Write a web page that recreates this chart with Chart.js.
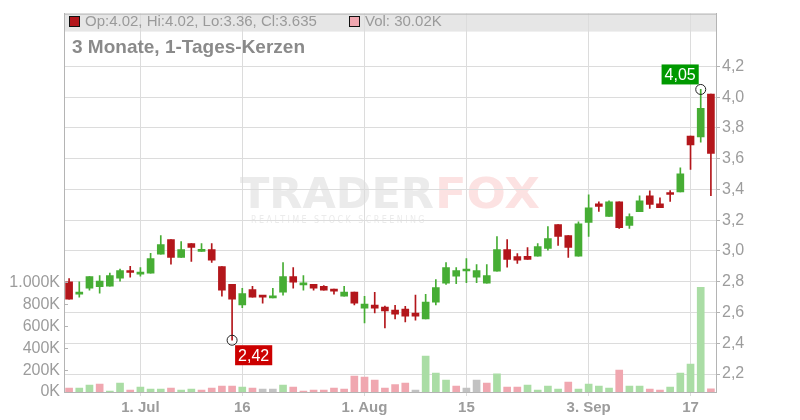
<!DOCTYPE html>
<html>
<head>
<meta charset="utf-8">
<script src="https://cdn.jsdelivr.net/npm/chart.js@4.4.1/dist/chart.umd.min.js"></script>
<style>
  body { margin: 0; background: #fff; }
  #wrap { position: relative; width: 800px; height: 420px; font-family: "Liberation Sans", Arial, sans-serif; }
  #chart { position: absolute; left: 0; top: 0; }
  .legend { position: absolute; top: 12px; height: 18px; line-height: 18px; font-size: 15px; color: #9a9a9a; white-space: nowrap; }
  .sq { display: inline-block; width: 9px; height: 9px; border: 1px solid #111; vertical-align: -1px; margin-right: 5px; }
  .title { position: absolute; left: 72px; top: 36px; font-size: 19px; font-weight: bold; color: #8a8a8a; white-space: nowrap; }
</style>
</head>
<body>
<div id="wrap">
  <canvas id="chart" width="800" height="420"></canvas>
  <div class="legend" id="legOhlc" style="left:69px"></div>
  <div class="legend" id="legVol" style="left:349px"></div>
  <div class="title">3 Monate, 1-Tages-Kerzen</div>
</div>
<script>
// Handelstage (Juni - September 2024)
const dates = [
    '2024-06-20','2024-06-21','2024-06-24','2024-06-25','2024-06-26','2024-06-27','2024-06-28',
    '2024-07-01','2024-07-02','2024-07-03','2024-07-05','2024-07-08','2024-07-09','2024-07-10','2024-07-11',
    '2024-07-12','2024-07-15','2024-07-16','2024-07-17','2024-07-18','2024-07-19','2024-07-22','2024-07-23',
    '2024-07-24','2024-07-25','2024-07-26','2024-07-29','2024-07-30','2024-07-31',
    '2024-08-01','2024-08-02','2024-08-05','2024-08-06','2024-08-07','2024-08-08','2024-08-09','2024-08-12',
    '2024-08-13','2024-08-14','2024-08-15','2024-08-16','2024-08-19','2024-08-20','2024-08-21','2024-08-22',
    '2024-08-23','2024-08-26','2024-08-27','2024-08-28','2024-08-29','2024-08-30',
    '2024-09-03','2024-09-04','2024-09-05','2024-09-06','2024-09-09','2024-09-10','2024-09-11','2024-09-12',
    '2024-09-13','2024-09-16','2024-09-17','2024-09-18','2024-09-19'
];

const opens = [
    2.80, 2.72, 2.759, 2.768, 2.771, 2.823, 2.866, 2.85, 2.856, 2.979, 3.074, 2.959, 3.048, 2.998, 3.009, 2.899,
    2.783, 2.649, 2.75, 2.709, 2.695, 2.733, 2.834, 2.78, 2.783, 2.771, 2.752, 2.707, 2.733, 2.629, 2.649, 2.636,
    2.616, 2.623, 2.597, 2.558, 2.668, 2.791, 2.836, 2.87, 2.83, 2.791, 2.869, 3.009, 2.963, 2.966, 2.966, 3.017,
    3.171, 3.10, 2.966, 3.186, 3.307, 3.225, 3.32, 3.166, 3.255, 3.358, 3.307, 3.378, 3.384, 3.747, 3.742, 4.02
];
const highs = [
    2.82, 2.80, 2.834, 2.841, 2.856, 2.882, 2.90, 2.893, 2.985, 3.10, 3.074, 3.061, 3.048, 3.048, 3.048, 2.899,
    2.783, 2.757, 2.77, 2.709, 2.757, 2.925, 2.893, 2.841, 2.783, 2.776, 2.752, 2.77, 2.733, 2.705, 2.731, 2.642,
    2.647, 2.64, 2.713, 2.718, 2.815, 2.925, 2.893, 2.951, 2.912, 2.912, 3.093, 3.074, 2.983, 3.022, 3.048, 3.158,
    3.171, 3.10, 3.19, 3.365, 3.32, 3.326, 3.32, 3.242, 3.358, 3.391, 3.346, 3.393, 3.54, 3.747, 4.05, 4.02
];
const lows = [
    2.687, 2.70, 2.746, 2.726, 2.771, 2.804, 2.83, 2.836, 2.856, 2.979, 2.914, 2.959, 2.933, 2.998, 2.925, 2.707,
    2.42, 2.632, 2.70, 2.661, 2.695, 2.713, 2.759, 2.746, 2.746, 2.746, 2.72, 2.707, 2.649, 2.532, 2.597, 2.50,
    2.558, 2.539, 2.551, 2.558, 2.649, 2.783, 2.787, 2.794, 2.794, 2.791, 2.869, 2.895, 2.92, 2.946, 2.966, 3.005,
    3.037, 2.959, 2.966, 3.095, 3.257, 3.225, 3.147, 3.147, 3.255, 3.276, 3.281, 3.322, 3.384, 3.531, 3.708, 3.36
];
const closes = [
    2.687, 2.733, 2.834, 2.805, 2.841, 2.873, 2.86, 2.863, 2.951, 3.041, 2.959, 3.009, 3.024, 3.009, 2.94, 2.746,
    2.687, 2.724, 2.70, 2.70, 2.70, 2.834, 2.797, 2.785, 2.759, 2.746, 2.739, 2.733, 2.661, 2.655, 2.629, 2.61,
    2.59, 2.577, 2.577, 2.668, 2.763, 2.893, 2.873, 2.873, 2.873, 2.841, 3.009, 2.946, 2.94, 2.946, 3.029, 3.08,
    3.095, 3.024, 3.177, 3.281, 3.29, 3.32, 3.151, 3.223, 3.326, 3.302, 3.281, 3.367, 3.501, 3.69, 3.928, 3.635
];
// Volumen in Tausend
const volumes = [
    36, 36, 64, 73, 9, 82, 18, 45, 27, 27, 36, 18, 27, 18, 36, 55,
    55, 45, 36, 27, 27, 64, 45, 9, 18, 18, 36, 27, 145, 136, 109, 36,
    67, 82, 18, 327, 173, 109, 55, 36, 109, 82, 167, 45, 45, 64, 18, 55,
    27, 91, 27, 73, 55, 36, 200, 55, 55, 27, 18, 45, 173, 255, 955, 30.02
];

const priceTicks = [2.2, 2.4, 2.6, 2.8, 3.0, 3.2, 3.4, 3.6, 3.8, 4.0, 4.2];
const volumeTicks = [0, 200, 400, 600, 800, 1000];
const dateTicks = ['2024-07-01', '2024-07-16', '2024-08-01', '2024-08-15', '2024-09-03', '2024-09-17'];
const dateTickLabels = ['1. Jul', '16', '1. Aug', '15', '3. Sep', '17'];

// Farben
const UP = '#46ad34';
const DOWN = '#b3161b';
const VOL_UP = '#aadda5';
const VOL_DOWN = '#f0a7b0';
const VOL_FLAT = '#c2c2c2';
const GRID = '#dcdcdc';
const AXIS = '#b4b4b4';
const LABEL = '#9c9c9c';

Chart.defaults.font.family = '"Liberation Sans", Arial, sans-serif';

const candleColors = opens.map((o, i) => closes[i] >= o ? UP : DOWN);
const volumeColors = closes.map((c, i) => {
    const prev = i > 0 ? closes[i - 1] : opens[i];
    if (c > prev) return VOL_UP;
    if (c < prev) return VOL_DOWN;
    return VOL_FLAT;
});

const fmtPrice = v => v.toFixed(2).replace('.', ',');

// Legende oben
const last = dates.length - 1;
document.getElementById('legOhlc').innerHTML =
    `<span class="sq" style="background:${DOWN}"></span>Op:${opens[last]}, Hi:${highs[last]}, Lo:${lows[last]}, Cl:${closes[last]}`;
document.getElementById('legVol').innerHTML =
    `<span class="sq" style="background:${VOL_DOWN}"></span>Vol: ${volumes[last].toFixed(2)}K`;

// Hintergrund: Kopfband + Wasserzeichen
const backgroundPlugin = {
    id: 'background',
    beforeDraw(chart) {
        const { ctx, chartArea: a } = chart;
        ctx.save();
        ctx.fillStyle = '#e6e6e6';
        ctx.fillRect(a.left, a.top, a.right - a.left, 18);

        const cx = (a.left + a.right) / 2;
        const base = (a.top + a.bottom) / 2 + 5;
        const drawFit = (text, x, y, width, font, color, spacing) => {
            ctx.font = font;
            ctx.letterSpacing = spacing || '0px';
            const w = ctx.measureText(text).width;
            ctx.save();
            ctx.translate(x, y);
            ctx.scale(width / w, 1);
            ctx.fillStyle = color;
            ctx.textAlign = 'left';
            ctx.textBaseline = 'alphabetic';
            ctx.fillText(text, 0, 0);
            ctx.restore();
        };
        drawFit('TRADER', cx - 150, base, 194, '900 42px "DejaVu Sans"', '#ebebeb');
        drawFit('FOX', cx + 45, base, 105, '900 42px "DejaVu Sans"', '#fce2e2');
        drawFit('REALTIME STOCK SCREENING', cx - 139, base + 15, 176, '10px "DejaVu Sans"', '#ebebeb', '3px');
        ctx.restore();
    },
    afterDraw(chart) {
        const { ctx, chartArea: a } = chart;
        ctx.save();
        ctx.strokeStyle = AXIS;
        ctx.lineWidth = 1;
        ctx.beginPath();
        ctx.moveTo(a.left, a.top + 0.5);
        ctx.lineTo(a.right, a.top + 0.5);
        // kleine Markierungen an der Volumenachse
        const vs = chart.scales.yVol;
        volumeTicks.forEach(v => {
            const y = Math.round(vs.getPixelForValue(v)) + 0.5;
            ctx.moveTo(a.left, y);
            ctx.lineTo(a.left + 4, y);
        });
        ctx.stroke();
        ctx.restore();
    }
};

// Markierung für Hoch und Tief
const extremesPlugin = {
    id: 'extremes',
    afterDatasetsDraw(chart) {
        const { ctx } = chart;
        const xs = chart.scales.x, ys = chart.scales.y;
        const hi = highs.indexOf(Math.max(...highs));
        const lo = lows.indexOf(Math.min(...lows));

        const mark = (idx, value, color, above) => {
            const px = xs.getPixelForValue(idx);
            const py = ys.getPixelForValue(value);
            ctx.save();
            ctx.strokeStyle = '#222';
            ctx.lineWidth = 1;
            ctx.beginPath();
            ctx.arc(px, py, 5, 0, Math.PI * 2);
            ctx.stroke();

            const text = fmtPrice(value);
            ctx.font = '16px "Liberation Sans", Arial, sans-serif';
            const w = ctx.measureText(text).width + 6;
            const h = 20;
            const bx = above ? px - 2 - w : px + 3;
            const by = above ? py - 5 - h : py + 5;
            ctx.fillStyle = color;
            ctx.fillRect(bx, by, w, h);
            ctx.fillStyle = '#fff';
            ctx.textAlign = 'center';
            ctx.textBaseline = 'middle';
            ctx.fillText(text, bx + w / 2, by + h / 2 + 1);
            ctx.restore();
        };
        mark(hi, highs[hi], '#009900', true);
        mark(lo, lows[lo], '#cc0000', false);
    }
};

new Chart(document.getElementById('chart'), {
    type: 'bar',
    data: {
        labels: dates,
        datasets: [
            {
                label: 'Kerze',
                data: dates.map((_, i) => [opens[i], closes[i]]),
                backgroundColor: candleColors,
                barThickness: 7,
                minBarLength: 2,
                grouped: false,
                yAxisID: 'y',
                order: 1
            },
            {
                label: 'Docht',
                data: dates.map((_, i) => [lows[i], highs[i]]),
                backgroundColor: candleColors,
                barThickness: 1,
                grouped: false,
                yAxisID: 'y',
                order: 2
            },
            {
                label: 'Volumen',
                data: volumes,
                backgroundColor: volumeColors,
                barThickness: 7,
                grouped: false,
                yAxisID: 'yVol',
                order: 3
            }
        ]
    },
    options: {
        responsive: false,
        animation: false,
        events: [],
        devicePixelRatio: 1,
        layout: { padding: { top: 12, left: 0, right: 0, bottom: 0 } },
        plugins: {
            legend: { display: false },
            tooltip: { enabled: false }
        },
        scales: {
            x: {
                offset: true,
                grid: {
                    offset: false,
                    color: c => dateTicks.includes(dates[c.index]) ? GRID : 'rgba(0,0,0,0)',
                    tickColor: c => dateTicks.includes(dates[c.index]) ? GRID : 'rgba(0,0,0,0)',
                    tickLength: 4
                },
                border: { color: AXIS },
                ticks: {
                    autoSkip: false,
                    maxRotation: 0,
                    padding: 3,
                    color: LABEL,
                    font: { size: 15, weight: 'bold' },
                    callback: function(value, index) {
                        const k = dateTicks.indexOf(dates[index]);
                        return k >= 0 ? dateTickLabels[k] : '';
                    }
                },
                afterFit: s => { s.height = 28; }
            },
            y: {
                position: 'right',
                min: 2.0835,
                max: 4.543,
                afterBuildTicks: s => { s.ticks = priceTicks.map(v => ({ value: v })); },
                afterFit: s => { s.width = 84; },
                grid: { color: GRID, tickColor: AXIS, tickLength: 4 },
                border: { color: AXIS },
                ticks: {
                    padding: 2,
                    color: LABEL,
                    font: { size: 16 },
                    callback: v => v.toFixed(1).replace('.', ',')
                }
            },
            yVol: {
                position: 'left',
                min: 0,
                max: 3455,
                afterBuildTicks: s => { s.ticks = volumeTicks.map(v => ({ value: v })); },
                afterFit: s => { s.width = 64; },
                grid: { display: false, drawTicks: false },
                border: { color: AXIS },
                ticks: {
                    padding: 4,
                    color: LABEL,
                    font: { size: 16 },
                    callback: v => (v >= 1000 ? (v / 1000) + '.' + String(v % 1000).padStart(3, '0') : v) + 'K'
                }
            }
        }
    },
    plugins: [backgroundPlugin, extremesPlugin]
});
</script>
</body>
</html>
